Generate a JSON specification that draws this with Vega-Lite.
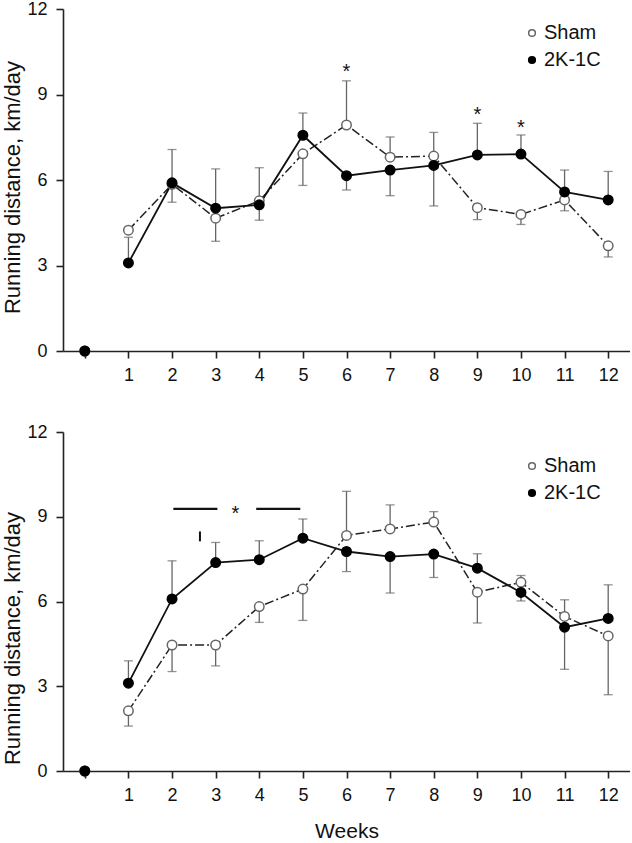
{
  "$schema": "https://vega.github.io/schema/vega-lite/v6.json",
  "padding": {"left": 1, "top": 0, "right": 0, "bottom": 0},
  "background": "white",
  "config": {
    "font": "Liberation Sans",
    "view": {"stroke": null},
    "axis": {
      "grid": false,
      "domainColor": "#222",
      "domainWidth": 1.6,
      "tickColor": "#222",
      "tickWidth": 1.6,
      "tickSize": 7,
      "labelFontSize": 18,
      "labelColor": "#111",
      "labelFont": "Liberation Sans",
      "titleFont": "Liberation Sans",
      "titleFontSize": 22,
      "titleFontWeight": "normal",
      "titleColor": "#111"
    },
    "legend": {
      "labelFont": "Liberation Sans",
      "labelFontSize": 20,
      "labelColor": "#111",
      "symbolSize": 45,
      "symbolStrokeWidth": 1.5,
      "rowPadding": 7,
      "labelOffset": 2,
      "padding": 0
    }
  },
  "datasets": {
    "top": [
      {"group": "Sham", "week": 0, "value": 0, "err": null},
      {"group": "Sham", "week": 1, "value": 4.24, "err": null},
      {"group": "Sham", "week": 2, "value": 5.85, "err": 5.22},
      {"group": "Sham", "week": 3, "value": 4.66, "err": 3.85},
      {"group": "Sham", "week": 4, "value": 5.27, "err": 6.43},
      {"group": "Sham", "week": 5, "value": 6.92, "err": 5.81},
      {"group": "Sham", "week": 6, "value": 7.93, "err": 9.48},
      {"group": "Sham", "week": 7, "value": 6.80, "err": 7.51},
      {"group": "Sham", "week": 8, "value": 6.84, "err": 7.67},
      {"group": "Sham", "week": 9, "value": 5.03, "err": 4.61},
      {"group": "Sham", "week": 10, "value": 4.79, "err": 4.44},
      {"group": "Sham", "week": 11, "value": 5.30, "err": 4.92},
      {"group": "Sham", "week": 12, "value": 3.69, "err": 3.30},
      {"group": "2K-1C", "week": 0, "value": 0, "err": null},
      {"group": "2K-1C", "week": 1, "value": 3.09, "err": 3.99},
      {"group": "2K-1C", "week": 2, "value": 5.90, "err": 7.07},
      {"group": "2K-1C", "week": 3, "value": 5.01, "err": 6.39},
      {"group": "2K-1C", "week": 4, "value": 5.13, "err": 4.59},
      {"group": "2K-1C", "week": 5, "value": 7.57, "err": 8.35},
      {"group": "2K-1C", "week": 6, "value": 6.15, "err": 5.65},
      {"group": "2K-1C", "week": 7, "value": 6.35, "err": 5.45},
      {"group": "2K-1C", "week": 8, "value": 6.51, "err": 5.09},
      {"group": "2K-1C", "week": 9, "value": 6.88, "err": 7.99},
      {"group": "2K-1C", "week": 10, "value": 6.91, "err": 7.58},
      {"group": "2K-1C", "week": 11, "value": 5.58, "err": 6.35},
      {"group": "2K-1C", "week": 12, "value": 5.30, "err": 6.30}
    ],
    "bottom": [
      {"group": "Sham", "week": 0, "value": 0, "err": null},
      {"group": "Sham", "week": 1, "value": 2.13, "err": 1.59},
      {"group": "Sham", "week": 2, "value": 4.46, "err": 3.52},
      {"group": "Sham", "week": 3, "value": 4.46, "err": 3.72},
      {"group": "Sham", "week": 4, "value": 5.82, "err": 5.26},
      {"group": "Sham", "week": 5, "value": 6.44, "err": 5.33},
      {"group": "Sham", "week": 6, "value": 8.34, "err": 9.90},
      {"group": "Sham", "week": 7, "value": 8.57, "err": 9.42},
      {"group": "Sham", "week": 8, "value": 8.81, "err": 9.18},
      {"group": "Sham", "week": 9, "value": 6.33, "err": 5.24},
      {"group": "Sham", "week": 10, "value": 6.68, "err": 6.92},
      {"group": "Sham", "week": 11, "value": 5.47, "err": 6.06},
      {"group": "Sham", "week": 12, "value": 4.78, "err": 2.70},
      {"group": "2K-1C", "week": 0, "value": 0, "err": null},
      {"group": "2K-1C", "week": 1, "value": 3.11, "err": 3.90},
      {"group": "2K-1C", "week": 2, "value": 6.09, "err": 7.44},
      {"group": "2K-1C", "week": 3, "value": 7.38, "err": 8.09},
      {"group": "2K-1C", "week": 4, "value": 7.48, "err": 8.15},
      {"group": "2K-1C", "week": 5, "value": 8.24, "err": 8.92},
      {"group": "2K-1C", "week": 6, "value": 7.77, "err": 7.06},
      {"group": "2K-1C", "week": 7, "value": 7.59, "err": 6.30},
      {"group": "2K-1C", "week": 8, "value": 7.68, "err": 6.85},
      {"group": "2K-1C", "week": 9, "value": 7.18, "err": 7.69},
      {"group": "2K-1C", "week": 10, "value": 6.32, "err": 6.02},
      {"group": "2K-1C", "week": 11, "value": 5.09, "err": 3.60},
      {"group": "2K-1C", "week": 12, "value": 5.40, "err": 6.59}
    ],
    "topStars": [
      {"week": 6, "y": 9.95, "label": "*"},
      {"week": 9, "y": 8.46, "label": "*"},
      {"week": 10, "y": 8.0, "label": "*"}
    ],
    "bottomStars": [
      {"week": 3.45, "y": 9.27, "label": "*"}
    ],
    "bottomBars": [
      {"x": 2.03, "x2": 3.04, "y": 9.28},
      {"x": 3.93, "x2": 4.94, "y": 9.28}
    ],
    "bottomTick": [
      {"x": 2.64, "y": 8.13, "y2": 8.48}
    ]
  },
  "spacing": 39,
  "resolve": {"scale": {"fill": "independent", "stroke": "independent"}, "legend": {"fill": "independent", "stroke": "independent"}},
  "vconcat": [
    {
      "width": 567,
      "height": 342,
      "encoding": {
        "x": {"field": "week", "type": "quantitative", "scale": {"domain": [-0.5, 12.5], "nice": false, "zero": false},
              "axis": {"title": null, "values": [0,1,2,3,4,5,6,7,8,9,10,11,12], "labelExpr": "datum.value == 0 ? '' : datum.label", "labelPadding": 8}},
        "y": {"field": "value", "type": "quantitative", "scale": {"domain": [0, 12], "nice": false},
              "axis": {"title": "Running distance, km/day", "values": [0,3,6,9,12], "labelPadding": 9, "titlePadding": 2, "titleY": 178}}
      },
      "layer": [
        {
          "data": {"name": "top"},
          "transform": [{"filter": "datum.err != null"}],
          "mark": {"type": "rule", "color": "#666", "strokeWidth": 1.3},
          "encoding": {"y2": {"field": "err"}}
        },
        {
          "data": {"name": "top"},
          "transform": [{"filter": "datum.err != null"}],
          "mark": {"type": "tick", "orient": "horizontal", "color": "#666", "size": 9, "thickness": 1.3},
          "encoding": {"y": {"field": "err", "type": "quantitative"}}
        },
        {
          "data": {"name": "top"},
          "transform": [{"filter": "datum.group == 'Sham' && datum.week > 0"}],
          "mark": {"type": "line", "color": "#222", "strokeWidth": 1.5, "strokeDash": [9, 3, 2, 3]},
          "encoding": {}
        },
        {
          "data": {"name": "top"},
          "transform": [{"filter": "datum.group == '2K-1C' && datum.week > 0"}],
          "mark": {"type": "line", "color": "#111", "strokeWidth": 1.8},
          "encoding": {}
        },
        {
          "data": {"name": "top"},
          "mark": {"type": "point", "shape": "circle", "size": 90, "strokeWidth": 1.5, "opacity": 1, "filled": false},
          "encoding": {
            "fill": {"field": "group", "type": "nominal", "scale": {"domain": ["Sham", "2K-1C"], "range": ["white", "black"]},
                     "legend": {"orient": "none", "legendX": 459, "legendY": 14, "title": null}},
            "stroke": {"field": "group", "type": "nominal", "scale": {"domain": ["Sham", "2K-1C"], "range": ["#666", "black"]},
                       "legend": {"orient": "none", "legendX": 459, "legendY": 14, "title": null}}
          }
        },
        {
          "data": {"name": "topStars"},
          "mark": {"type": "text", "fontSize": 20, "color": "#111", "baseline": "middle", "dy": 5},
          "encoding": {"y": {"field": "y", "type": "quantitative"}, "text": {"field": "label"}}
        }
      ]
    },
    {
      "width": 567,
      "height": 339,
      "encoding": {
        "x": {"field": "week", "type": "quantitative", "scale": {"domain": [-0.5, 12.5], "nice": false, "zero": false},
              "axis": {"title": "Weeks", "titleFontSize": 21, "values": [0,1,2,3,4,5,6,7,8,9,10,11,12], "labelExpr": "datum.value == 0 ? '' : datum.label", "labelPadding": 8, "titlePadding": 16}},
        "y": {"field": "value", "type": "quantitative", "scale": {"domain": [0, 12], "nice": false},
              "axis": {"title": "Running distance, km/day", "values": [0,3,6,9,12], "labelPadding": 9, "titlePadding": 2, "titleY": 206}}
      },
      "layer": [
        {
          "data": {"name": "bottom"},
          "transform": [{"filter": "datum.err != null"}],
          "mark": {"type": "rule", "color": "#666", "strokeWidth": 1.3},
          "encoding": {"y2": {"field": "err"}}
        },
        {
          "data": {"name": "bottom"},
          "transform": [{"filter": "datum.err != null"}],
          "mark": {"type": "tick", "orient": "horizontal", "color": "#666", "size": 9, "thickness": 1.3},
          "encoding": {"y": {"field": "err", "type": "quantitative"}}
        },
        {
          "data": {"name": "bottom"},
          "transform": [{"filter": "datum.group == 'Sham' && datum.week > 0"}],
          "mark": {"type": "line", "color": "#222", "strokeWidth": 1.5, "strokeDash": [9, 3, 2, 3]},
          "encoding": {}
        },
        {
          "data": {"name": "bottom"},
          "transform": [{"filter": "datum.group == '2K-1C' && datum.week > 0"}],
          "mark": {"type": "line", "color": "#111", "strokeWidth": 1.8},
          "encoding": {}
        },
        {
          "data": {"name": "bottom"},
          "mark": {"type": "point", "shape": "circle", "size": 90, "strokeWidth": 1.5, "opacity": 1, "filled": false},
          "encoding": {
            "fill": {"field": "group", "type": "nominal", "scale": {"domain": ["Sham", "2K-1C"], "range": ["white", "black"]},
                     "legend": {"orient": "none", "legendX": 459, "legendY": 24, "title": null}},
            "stroke": {"field": "group", "type": "nominal", "scale": {"domain": ["Sham", "2K-1C"], "range": ["#666", "black"]},
                       "legend": {"orient": "none", "legendX": 459, "legendY": 24, "title": null}}
          }
        },
        {
          "data": {"name": "bottomBars"},
          "mark": {"type": "rule", "color": "#111", "strokeWidth": 2.2},
          "encoding": {"x": {"field": "x", "type": "quantitative"}, "x2": {"field": "x2"}, "y": {"field": "y", "type": "quantitative"}}
        },
        {
          "data": {"name": "bottomTick"},
          "mark": {"type": "rule", "color": "#111", "strokeWidth": 2},
          "encoding": {"x": {"field": "x", "type": "quantitative"}, "y": {"field": "y", "type": "quantitative"}, "y2": {"field": "y2"}}
        },
        {
          "data": {"name": "bottomStars"},
          "mark": {"type": "text", "fontSize": 20, "color": "#111", "baseline": "middle", "dy": 5},
          "encoding": {"y": {"field": "y", "type": "quantitative"}, "text": {"field": "label"}}
        }
      ]
    }
  ]
}
